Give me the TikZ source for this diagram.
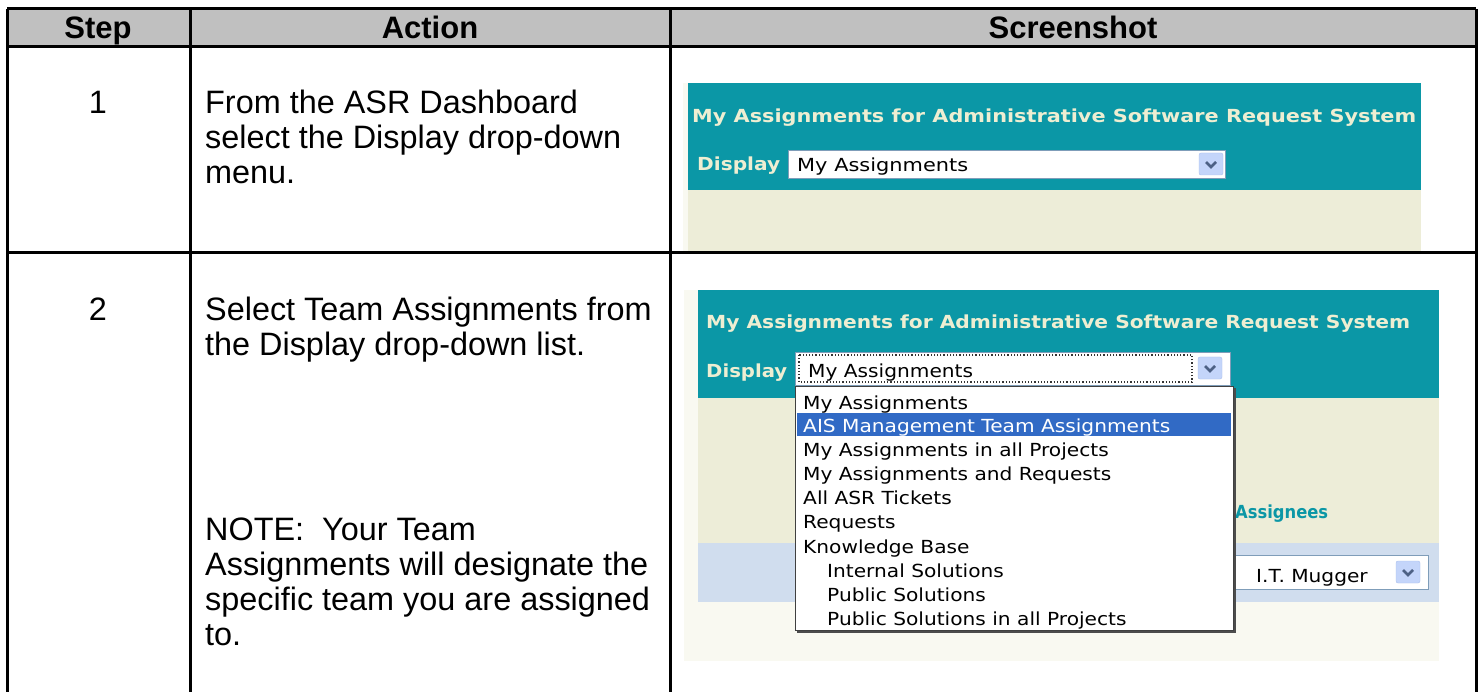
\documentclass[tikz,border=0pt]{standalone}
\usepackage{fontspec}
\setmainfont{Liberation Sans}
\newfontfamily\shotfont[FakeStretch=1.12]{DejaVu Sans}

\definecolor{hdrgray}{RGB}{192,192,192}
\definecolor{asrteal}{RGB}{11,151,166}
\definecolor{asrcream}{RGB}{238,238,210}
\definecolor{asrbeige}{RGB}{237,237,216}
\definecolor{asrpale}{RGB}{249,249,241}
\definecolor{asrblue}{RGB}{208,221,238}
\definecolor{asrsel}{RGB}{49,106,197}
\definecolor{btnblue}{RGB}{196,213,250}
\definecolor{btnedge}{RGB}{172,192,236}
\definecolor{chevron}{RGB}{77,97,133}
\definecolor{comboedge}{RGB}{127,157,185}

% text squeezed to a given width, height kept
\newcommand{\fitw}[2]{\resizebox{#1pt}{\height}{#2}}
% drop-down button, centre x y
\newcommand{\dropbtn}[2]{%
  \draw[btnedge, fill=btnblue, rounded corners=2pt] (#1-12,#2-11) rectangle (#1+12,#2+11);
  \draw[chevron, line width=2.6pt] (#1-5,#2-2) -- (#1,#2+3) -- (#1+5,#2-2);}

\tikzset{
  head/.style={font=\bfseries\fontsize{31}{31}\selectfont, inner sep=0pt, anchor=base},
  cell/.style={font=\fontsize{32.4}{35}\selectfont, inner sep=0pt, align=left, anchor=north west},
  shottxt/.style={font=\shotfont\fontsize{18}{18}\selectfont, inner sep=0pt, anchor=west,
    text height=13pt, text depth=0pt},
  shotbold/.style={shottxt, font=\shotfont\bfseries\fontsize{18}{18}\selectfont},
  rule/.style={line width=3pt}
}

\begin{document}
\begin{tikzpicture}[x=1pt, y=-1pt]
	\useasboundingbox (0,0) rectangle (1480,692);

	% header row
	\fill[hdrgray] (7,9) rectangle (1476,47);
	\draw[rule] (7,9) -- (1476,9);
	\draw[rule] (7,47) -- (1476,47);
	\draw[rule] (7,253) -- (1476,253);
	\draw[rule] (7,9) -- (7,692);
	\draw[rule] (190,9) -- (190,692);
	\draw[rule] (670,9) -- (670,692);
	\draw[rule] (1476,9) -- (1476,692);

	\node[head] (hstep) at (98,39) {Step};
	\node[head] (hact) at (430,39) {Action};
	\node[head] (hshot) at (1073,39) {Screenshot};

	% row 1
	\node[cell, anchor=north] (step1) at (98,91) {1};
	\node[cell] (act1) at (205,90) {From the ASR Dashboard\\select the Display drop-down\\menu.};

	\fill[asrpale] (683,83) rectangle (688,251);
	\fill[asrteal] (688,83) rectangle (1421,190);
	\fill[asrbeige] (688,190) rectangle (1421,251);
	\node[shotbold, text=asrcream] (title1) at (692,116) {\fitw{724}{My Assignments for Administrative Software Request System}};
	\node[shotbold, text=asrcream] (disp1) at (697,164) {\fitw{83}{Display}};
	\draw[comboedge, fill=white] (788,150) rectangle (1225,178);
	\node[shottxt] (combo1) at (797,165) {\fitw{171}{My Assignments}};
	\dropbtn{1211}{164}

	% row 2
	\node[cell, anchor=north] (step2) at (98,298) {2};
	\node[cell] (act2) at (205,297) {Select Team Assignments from\\the Display drop-down list.};
	\node[cell] (note2) at (205,518) {NOTE:\ \ Your Team\\Assignments will designate the\\specific team you are assigned\\to.};

	\fill[asrpale] (684,290) rectangle (1439,661);
	\fill[asrteal] (698,290) rectangle (1439,398);
	\fill[asrbeige] (698,398) rectangle (1439,543);
	\fill[asrblue] (698,543) rectangle (1439,602);
	\node[shotbold, text=asrcream] (title2) at (706,322) {\fitw{704}{My Assignments for Administrative Software Request System}};
	\node[shotbold, text=asrcream] (disp2) at (706,371) {\fitw{81}{Display}};
	\node[shotbold, text=asrteal] (assign2) at (1235,512) {\fitw{93}{Assignees}};
	\draw[comboedge, fill=white] (1180,555) rectangle (1428,589);
	\node[shottxt] (mugger) at (1256,576) {I.T. Mugger};
	\dropbtn{1408}{572}

	\draw[comboedge, fill=white] (795,352) rectangle (1230,385);
	\draw[black!80, dotted, line width=1.2pt] (799,355) rectangle (1192,382);
	\node[shottxt] (combo2) at (808,371) {My Assignments};
	\dropbtn{1210}{368}

	% open list
	\draw[black!70, line width=2pt] (797,632) -- (1235,632) -- (1235,388);
	\draw[black!75, fill=white, line width=1pt] (795,386) rectangle (1233,630);
	\fill[asrsel] (797,413) rectangle (1231,436);
	\node[shottxt] (it1) at (803,403) {My Assignments};
	\node[shottxt, text=white] (it2) at (803,426) {AIS Management Team Assignments};
	\node[shottxt] (it3) at (803,450) {My Assignments in all Projects};
	\node[shottxt] (it4) at (803,474) {My Assignments and Requests};
	\node[shottxt] (it5) at (803,498) {All ASR Tickets};
	\node[shottxt] (it6) at (803,522) {Requests};
	\node[shottxt] (it7) at (803,547) {Knowledge Base};
	\node[shottxt] (it8) at (827,571) {Internal Solutions};
	\node[shottxt] (it9) at (827,595) {Public Solutions};
	\node[shottxt] (it10) at (827,619) {Public Solutions in all Projects};
\end{tikzpicture}
\end{document}
